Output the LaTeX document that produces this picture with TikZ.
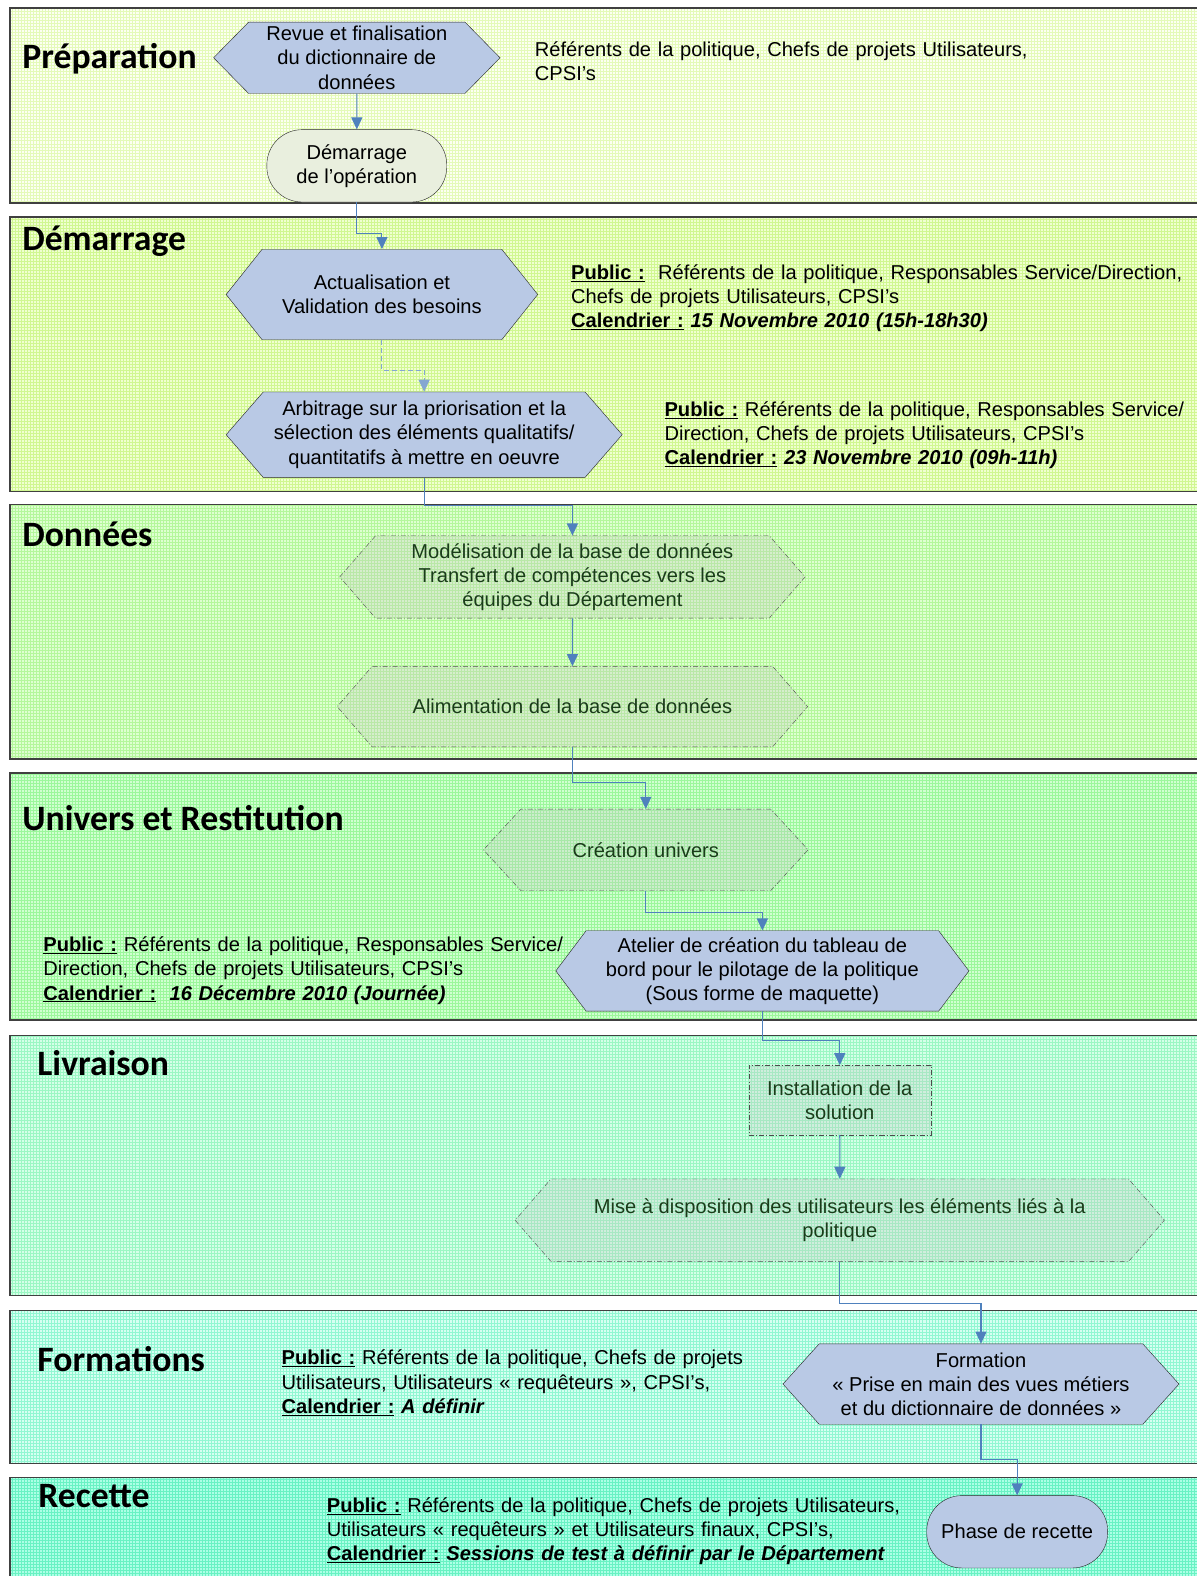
\documentclass[tikz,border=0pt]{standalone}
\usepackage{fontspec}
\setmainfont{Liberation Sans}
\newfontfamily\headfont{Carlito}
\usetikzlibrary{positioning,shapes.symbols,arrows.meta,patterns}
\definecolor{hexblue}{RGB}{185,201,229}
\definecolor{flowblue}{RGB}{79,129,189}
\definecolor{termgray}{RGB}{233,239,222}
\definecolor{greentext}{RGB}{25,60,25}
\definecolor{fillA}{RGB}{252,255,242} \definecolor{gridA}{RGB}{228,250,185}
\definecolor{fillB}{RGB}{240,255,208} \definecolor{gridB}{RGB}{208,247,145}
\definecolor{fillC}{RGB}{222,255,208} \definecolor{gridC}{RGB}{180,247,155}
\definecolor{fillD}{RGB}{208,255,208} \definecolor{gridD}{RGB}{155,247,155}
\definecolor{fillE}{RGB}{212,255,232} \definecolor{gridE}{RGB}{155,247,195}
\definecolor{fillF}{RGB}{214,255,242} \definecolor{gridF}{RGB}{145,247,210}
\definecolor{fillG}{RGB}{172,255,230} \definecolor{gridG}{RGB}{105,242,195}
\newcommand{\publbl}{\underline{\textbf{Public :}}}
\newcommand{\callbl}{\underline{\textbf{Calendrier :}}}
\tikzset{band/.style={draw=black!75,line width=1.4pt,pattern=grid},
	 phase/.style={anchor=base west,inner sep=0pt,font=\headfont\bfseries\fontsize{35.5}{40}\selectfont},
	 info/.style={anchor=base west,align=left,text width=640pt,inner sep=0pt},
	 bhex/.style={signal,signal to=west and east,signal pointer angle=98,draw=black!85,fill=hexblue,align=center,inner sep=0pt},
	 ghex/.style={bhex,fill=gray!45,fill opacity=0.3,text opacity=1,draw=black!70,dash pattern=on 5pt off 2pt on 1pt off 2pt,text=greentext},
	 gbox/.style={rectangle,fill=gray!45,fill opacity=0.3,text opacity=1,draw=black!70,dash pattern=on 5pt off 2pt on 1pt off 2pt,text=greentext,align=center},
	 term/.style={rectangle,rounded corners=35pt,draw=black!85,align=center},
	 flow/.style={draw=flowblue,line width=1.1pt,-{Triangle[width=11pt,length=12pt]}}
	 }

\begin{document}
\begin{tikzpicture}[x=1pt,y=-1pt,font=\fontsize{20}{24}\selectfont] % phases du projet
	\useasboundingbox (0,0) rectangle (1190,1568);
	\draw[band,preaction={fill=fillA},pattern color=gridA] (10,8) rectangle (1200,202);
	\draw[band,preaction={fill=fillB},pattern color=gridB] (10,216) rectangle (1200,489);
	\draw[band,preaction={fill=fillC},pattern color=gridC] (10,502) rectangle (1200,755);
	\draw[band,preaction={fill=fillD},pattern color=gridD] (10,769) rectangle (1200,1015);
	\draw[band,preaction={fill=fillE},pattern color=gridE] (10,1030) rectangle (1200,1289);
	\draw[band,preaction={fill=fillF},pattern color=gridF] (10,1304) rectangle (1200,1456);
	\draw[band,preaction={fill=fillG},pattern color=gridG] (10,1470) rectangle (1200,1580);

	\node[phase] (prep) at (22,68) {Préparation};
	\node[phase] (dem) at (22,249) {Démarrage};
	\node[phase] (don) at (22,544) {Données};
	\node[phase] (unires) at (22,826) {Univers et Restitution};
	\node[phase] (livr) at (37,1070) {Livraison};
	\node[phase] (forms) at (37,1365) {Formations};
	\node[phase] (rec) at (38,1500) {Recette};

	\node[bhex,minimum width=285pt,minimum height=71pt,signal pointer angle=91] (revue) at (355,57.5) {Revue et finalisation\\du dictionnaire de\\données};
	\node[term,fill=termgray,minimum width=179pt,minimum height=72pt] (demop) at (355,165) {Démarrage\\de l’opération};
	\node[bhex,minimum width=310pt,minimum height=90pt,signal pointer angle=103] (actu) at (380,293) {Actualisation et\\Validation des besoins};
	\node[bhex,minimum width=394pt,minimum height=85pt] (arbit) at (422,432.5) {Arbitrage sur la priorisation et la\\sélection des éléments qualitatifs/\\quantitatifs à mettre en oeuvre};
	\node[ghex,minimum width=463pt,minimum height=82pt] (model) at (569.5,574) {Modélisation de la base de données\\Transfert de compétences vers les\\équipes du Département};
	\node[ghex,minimum width=468pt,minimum height=80pt] (alim) at (569.5,703) {Alimentation de la base de données};
	\node[ghex,minimum width=323pt,minimum height=81pt,signal pointer angle=95] (univ) at (642.5,845.5) {Création univers};
	\node[bhex,minimum width=411pt,minimum height=80pt,signal pointer angle=106] (atel) at (758.5,966) {Atelier de création du tableau de\\bord pour le pilotage de la politique\\(Sous forme de maquette)};
	\node[gbox,minimum width=181pt,minimum height=69pt] (install) at (835.5,1094.5) {Installation de la\\solution};
	\node[ghex,minimum width=646pt,minimum height=82pt] (mise) at (835.5,1214) {Mise à disposition des utilisateurs les éléments liés à la\\politique};
	\node[bhex,minimum width=394pt,minimum height=80pt,signal pointer angle=96] (form) at (976,1377) {Formation\\« Prise en main des vues métiers\\et du dictionnaire de données »};
	\node[term,fill=hexblue,minimum width=180pt,minimum height=72pt] (recette) at (1012,1524) {Phase de recette};

	\node[info] (prepinfo) at (532,56) {Référents de la politique, Chefs de projets Utilisateurs,\\CPSI’s};
	\node[info] (actuinfo) at (568,278) {\publbl{}\ \ Référents de la politique, Responsables Service/Direction,\\Chefs de projets Utilisateurs, CPSI’s\\\callbl{} \textbf{\textit{15 Novembre 2010 (15h-18h30)}}};
	\node[info] (arbitinfo) at (661,414) {\publbl{} Référents de la politique, Responsables Service/\\Direction, Chefs de projets Utilisateurs, CPSI’s\\\callbl{} \textbf{\textit{23 Novembre 2010 (09h-11h)}}};
	\node[info] (atelinfo) at (43,947) {\publbl{} Référents de la politique, Responsables Service/\\Direction, Chefs de projets Utilisateurs, CPSI’s\\\callbl{}\ \ \textbf{\textit{16 Décembre 2010 (Journée)}}};
	\node[info] (forminfo) at (280,1358) {\publbl{} Référents de la politique, Chefs de projets\\Utilisateurs, Utilisateurs « requêteurs », CPSI’s,\\\callbl{} \textbf{\textit{A définir}}};
	\node[info] (recinfo) at (325,1505) {\publbl{} Référents de la politique, Chefs de projets Utilisateurs,\\Utilisateurs « requêteurs » et Utilisateurs finaux, CPSI’s,\\\callbl{} \textbf{\textit{Sessions de test à définir par le Département}}};

	\draw[flow] (revue) -- (demop);
	\draw[flow] (demop.south) -- ++(0,31) -| (actu.north);
	\draw[flow,draw=flowblue!70,dash pattern=on 5pt off 3pt] (actu.south) -- ++(0,30) -| (arbit.north);
	\draw[flow] (arbit.south) -- ++(0,28) -| (model.north);
	\draw[flow] (model) -- (alim);
	\draw[flow] (alim.south) -- ++(0,35) -| (univ.north);
	\draw[flow] (univ.south) -- ++(0,22) -| (atel.north);
	\draw[flow] (atel.south) -- ++(0,29) -| (install.north);
	\draw[flow] (install) -- (mise);
	\draw[flow] (mise.south) -- ++(0,42) -| (form.north);
	\draw[flow] (form.south) -- ++(0,35) -| (recette.north);
\end{tikzpicture}
\end{document}
